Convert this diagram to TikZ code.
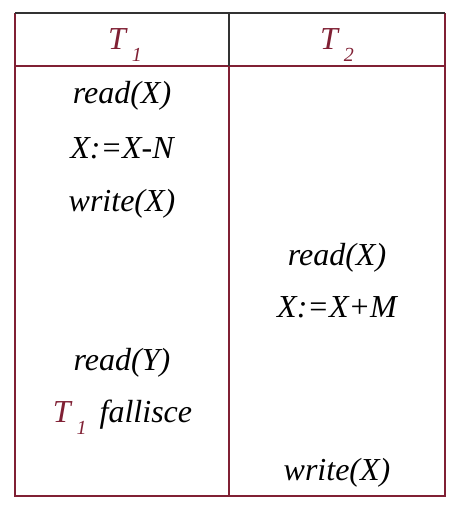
\documentclass[tikz,border=0pt]{standalone}
\usepackage{fontspec}
\setmainfont{Liberation Serif}
\definecolor{maroon}{RGB}{128,32,52}
\definecolor{topline}{RGB}{50,50,50}
\newcommand\lowsub[1]{\kern6pt\raisebox{-12pt}{\fontsize{20}{20}\selectfont #1}}
\begin{document}
\begin{tikzpicture}[x=1pt,y=-1pt,
  rule/.style={draw=maroon,line width=2pt},
  darkrule/.style={draw=topline,line width=2pt},
  cell/.style={inner sep=0pt,anchor=base,font=\fontsize{32}{32}\selectfont\itshape}]
\useasboundingbox (0,0) rectangle (460,507);
% frame
\coordinate (tl) at (15,13);
\coordinate (tr) at (445,13);
\coordinate (bl) at (15,496);
\coordinate (br) at (445,496);
\coordinate (hl) at (15,66);
\coordinate (hr) at (445,66);
\coordinate (mt) at (229,13);
\coordinate (mh) at (229,66);
\coordinate (mb) at (229,496);
\draw[rule] (hl) -- (bl) -- (br) -- (hr);
\draw[rule] (tl) -- (hl);
\draw[rule] (tr) -- (hr);
\draw[rule] (hl) -- (hr);
\draw[rule] (mh) -- (mb);
\draw[darkrule] (tl) -- (tr);
\draw[darkrule] (mt) -- (mh);
% header
\node[cell,text=maroon] (h1) at (125,49) {T\lowsub{1}};
\node[cell,text=maroon] (h2) at (337,49) {T\lowsub{2}};
% T1 column
\node[cell] (a1) at (122,103) {read(X)};
\node[cell] (a2) at (122,158) {X:=X-N};
\node[cell] (a3) at (122,211) {write(X)};
\node[cell] (a4) at (122,370) {read(Y)};
\node[cell] (a5) at (122.5,422) {\textcolor{maroon}{T\lowsub{1}}\kern13pt fallisce};
% T2 column
\node[cell] (b1) at (337,265) {read(X)};
\node[cell] (b2) at (337,317) {X:=X+M};
\node[cell] (b3) at (337,480) {write(X)};
\end{tikzpicture}
\end{document}
